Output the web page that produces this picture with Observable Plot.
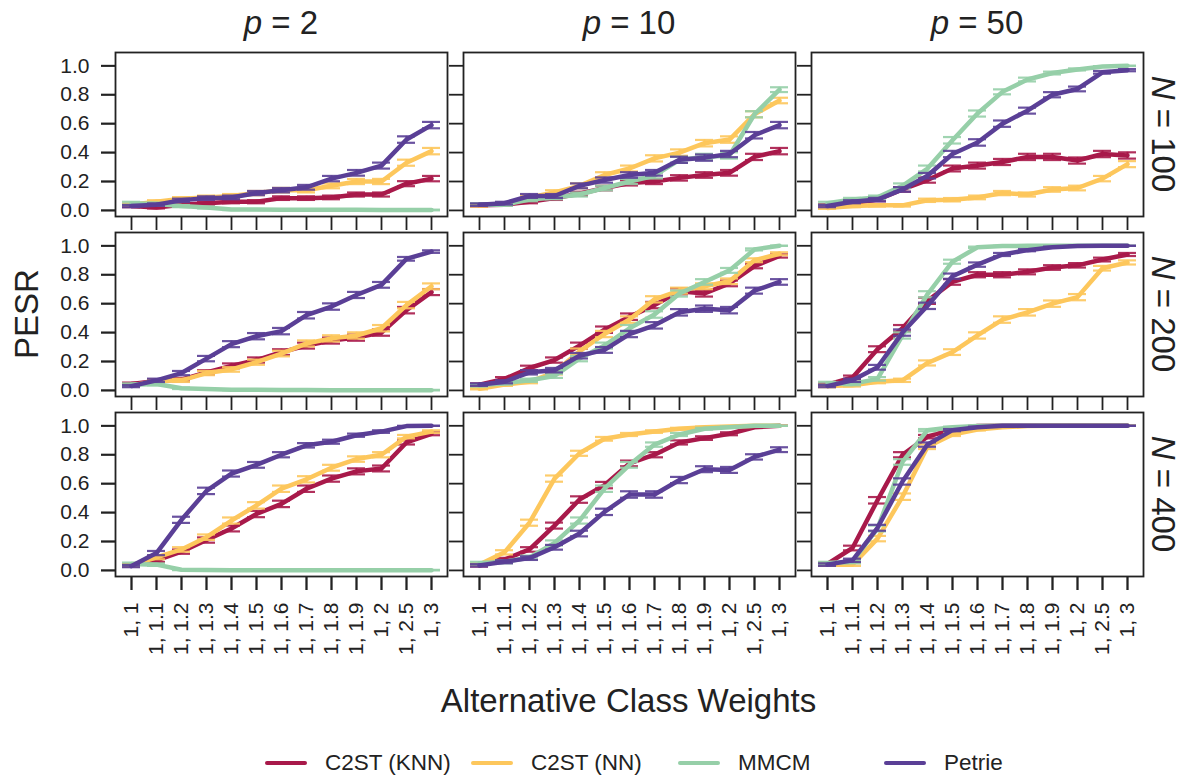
<!DOCTYPE html>
<html>
<head>
<meta charset="utf-8">
<script src="https://cdn.jsdelivr.net/npm/d3@7"></script>
<script src="https://cdn.jsdelivr.net/npm/@observablehq/plot@0.6"></script>
<style>
  body { margin: 0; background: #fff; font-family: "Liberation Sans", Arial, sans-serif; }
  #wrap { position: relative; width: 1187px; height: 778px; overflow: hidden; }
  #legend { position: absolute; left: 0; top: 750px; width: 1187px; height: 26px; }
  .item { position: absolute; top: 0; height: 26px; display: flex; align-items: center; font-size: 22.5px; color: #222; white-space: nowrap; }
  .swatch { width: 42px; height: 4px; border-radius: 2px; margin-right: 18px; }
</style>
</head>
<body>
<div id="wrap"></div>
<script>
// Alternative class weights on the x axis (13 settings)
const weights = ["1, 1", "1, 1.1", "1, 1.2", "1, 1.3", "1, 1.4", "1, 1.5", "1, 1.6",
                 "1, 1.7", "1, 1.8", "1, 1.9", "1, 2", "1, 2.5", "1, 3"];
const dims = [2, 10, 50];          // p, columns
const sizes = [100, 200, 400];     // N, rows
const methods = ["C2ST (KNN)", "C2ST (NN)", "MMCM", "Petrie"];
const colors = ["#A8194A", "#FDC75C", "#96CFA8", "#5A3F96"];
const yTicks = [0, 0.2, 0.4, 0.6, 0.8, 1.0];
const REPLICATES = 500;            // simulation runs behind each rejection rate

// PESR per method, p and N
const knn_p2_n100  = [0.03, 0.02, 0.04, 0.05, 0.06, 0.06, 0.085, 0.085, 0.09, 0.11, 0.11, 0.185, 0.22];
const nn_p2_n100   = [0.04, 0.06, 0.08, 0.09, 0.10, 0.12, 0.14, 0.14, 0.17, 0.20, 0.20, 0.33, 0.41];
const mmcm_p2_n100 = [0.05, 0.045, 0.03, 0.02, 0.006, 0.006, 0.005, 0.005, 0.004, 0.004, 0.003, 0.003, 0.003];
const pet_p2_n100  = [0.03, 0.04, 0.07, 0.085, 0.09, 0.12, 0.14, 0.16, 0.22, 0.26, 0.31, 0.49, 0.59];

const knn_p10_n100  = [0.035, 0.04, 0.06, 0.085, 0.115, 0.155, 0.19, 0.20, 0.225, 0.245, 0.26, 0.37, 0.41];
const nn_p10_n100   = [0.035, 0.045, 0.09, 0.125, 0.17, 0.245, 0.29, 0.36, 0.40, 0.465, 0.49, 0.665, 0.76];
const mmcm_p10_n100 = [0.04, 0.04, 0.075, 0.09, 0.11, 0.155, 0.20, 0.24, 0.35, 0.37, 0.38, 0.665, 0.835];
const pet_p10_n100  = [0.04, 0.05, 0.10, 0.10, 0.17, 0.21, 0.245, 0.26, 0.35, 0.365, 0.39, 0.52, 0.59];

const knn_p50_n100  = [0.035, 0.05, 0.075, 0.145, 0.21, 0.29, 0.31, 0.335, 0.37, 0.37, 0.345, 0.39, 0.38];
const nn_p50_n100   = [0.016, 0.03, 0.035, 0.035, 0.07, 0.074, 0.09, 0.12, 0.11, 0.145, 0.155, 0.22, 0.32];
const mmcm_p50_n100 = [0.05, 0.075, 0.09, 0.17, 0.29, 0.485, 0.67, 0.82, 0.905, 0.95, 0.975, 0.995, 1.0];
const pet_p50_n100  = [0.03, 0.06, 0.075, 0.145, 0.24, 0.39, 0.47, 0.60, 0.69, 0.80, 0.84, 0.955, 0.97];

const knn_p2_n200  = [0.045, 0.065, 0.075, 0.125, 0.17, 0.21, 0.265, 0.31, 0.345, 0.365, 0.40, 0.555, 0.68];
const nn_p2_n200   = [0.035, 0.065, 0.07, 0.12, 0.145, 0.195, 0.255, 0.325, 0.36, 0.38, 0.43, 0.59, 0.72];
const mmcm_p2_n200 = [0.04, 0.045, 0.015, 0.01, 0.005, 0.004, 0.003, 0.003, 0.002, 0.002, 0.002, 0.002, 0.002];
const pet_p2_n200  = [0.03, 0.07, 0.12, 0.22, 0.32, 0.375, 0.41, 0.52, 0.58, 0.66, 0.73, 0.91, 0.96];

const knn_p10_n200  = [0.04, 0.08, 0.155, 0.21, 0.31, 0.42, 0.51, 0.59, 0.685, 0.67, 0.74, 0.86, 0.93];
const nn_p10_n200   = [0.012, 0.04, 0.06, 0.125, 0.27, 0.39, 0.49, 0.63, 0.69, 0.72, 0.755, 0.90, 0.945];
const mmcm_p10_n200 = [0.035, 0.05, 0.07, 0.10, 0.22, 0.31, 0.43, 0.525, 0.67, 0.75, 0.83, 0.975, 1.0];
const pet_p10_n200  = [0.04, 0.06, 0.125, 0.14, 0.24, 0.28, 0.39, 0.45, 0.54, 0.565, 0.555, 0.69, 0.75];

const knn_p50_n200  = [0.04, 0.09, 0.285, 0.43, 0.62, 0.75, 0.80, 0.80, 0.82, 0.85, 0.865, 0.905, 0.94];
const nn_p50_n200   = [0.03, 0.035, 0.06, 0.07, 0.19, 0.265, 0.38, 0.49, 0.54, 0.60, 0.645, 0.845, 0.885];
const mmcm_p50_n200 = [0.05, 0.045, 0.08, 0.38, 0.665, 0.89, 0.99, 0.998, 1.0, 1.0, 1.0, 1.0, 1.0];
const pet_p50_n200  = [0.03, 0.07, 0.16, 0.40, 0.585, 0.79, 0.87, 0.94, 0.97, 0.99, 0.998, 1.0, 1.0];

const knn_p2_n400  = [0.035, 0.07, 0.13, 0.21, 0.29, 0.39, 0.46, 0.565, 0.635, 0.685, 0.705, 0.885, 0.945];
const nn_p2_n400   = [0.035, 0.09, 0.145, 0.23, 0.345, 0.45, 0.565, 0.63, 0.71, 0.77, 0.80, 0.925, 0.96];
const mmcm_p2_n400 = [0.045, 0.04, 0.005, 0.003, 0.002, 0.002, 0.002, 0.002, 0.002, 0.002, 0.002, 0.002, 0.002];
const pet_p2_n400  = [0.03, 0.12, 0.35, 0.55, 0.67, 0.73, 0.80, 0.865, 0.89, 0.935, 0.96, 0.998, 1.0];

const knn_p10_n400  = [0.035, 0.075, 0.145, 0.31, 0.49, 0.59, 0.74, 0.80, 0.885, 0.915, 0.945, 0.99, 1.0];
const nn_p10_n400   = [0.04, 0.125, 0.33, 0.635, 0.81, 0.91, 0.94, 0.96, 0.98, 0.99, 0.995, 1.0, 1.0];
const mmcm_p10_n400 = [0.05, 0.06, 0.09, 0.19, 0.345, 0.565, 0.73, 0.87, 0.94, 0.98, 0.99, 1.0, 1.0];
const pet_p10_n400  = [0.035, 0.06, 0.085, 0.16, 0.255, 0.405, 0.525, 0.525, 0.625, 0.70, 0.695, 0.785, 0.835];

const knn_p50_n400  = [0.045, 0.155, 0.485, 0.80, 0.925, 0.975, 0.998, 1.0, 1.0, 1.0, 1.0, 1.0, 1.0];
const nn_p50_n400   = [0.04, 0.04, 0.22, 0.51, 0.855, 0.94, 0.975, 0.99, 0.998, 1.0, 1.0, 1.0, 1.0];
const mmcm_p50_n400 = [0.05, 0.06, 0.29, 0.75, 0.97, 0.99, 0.998, 1.0, 1.0, 1.0, 1.0, 1.0, 1.0];
const pet_p50_n400  = [0.04, 0.07, 0.295, 0.615, 0.87, 0.97, 0.99, 1.0, 1.0, 1.0, 1.0, 1.0, 1.0];

const series = [
  [2, 100, methods[0], knn_p2_n100], [2, 100, methods[1], nn_p2_n100], [2, 100, methods[2], mmcm_p2_n100], [2, 100, methods[3], pet_p2_n100],
  [10, 100, methods[0], knn_p10_n100], [10, 100, methods[1], nn_p10_n100], [10, 100, methods[2], mmcm_p10_n100], [10, 100, methods[3], pet_p10_n100],
  [50, 100, methods[0], knn_p50_n100], [50, 100, methods[1], nn_p50_n100], [50, 100, methods[2], mmcm_p50_n100], [50, 100, methods[3], pet_p50_n100],
  [2, 200, methods[0], knn_p2_n200], [2, 200, methods[1], nn_p2_n200], [2, 200, methods[2], mmcm_p2_n200], [2, 200, methods[3], pet_p2_n200],
  [10, 200, methods[0], knn_p10_n200], [10, 200, methods[1], nn_p10_n200], [10, 200, methods[2], mmcm_p10_n200], [10, 200, methods[3], pet_p10_n200],
  [50, 200, methods[0], knn_p50_n200], [50, 200, methods[1], nn_p50_n200], [50, 200, methods[2], mmcm_p50_n200], [50, 200, methods[3], pet_p50_n200],
  [2, 400, methods[0], knn_p2_n400], [2, 400, methods[1], nn_p2_n400], [2, 400, methods[2], mmcm_p2_n400], [2, 400, methods[3], pet_p2_n400],
  [10, 400, methods[0], knn_p10_n400], [10, 400, methods[1], nn_p10_n400], [10, 400, methods[2], mmcm_p10_n400], [10, 400, methods[3], pet_p10_n400],
  [50, 400, methods[0], knn_p50_n400], [50, 400, methods[1], nn_p50_n400], [50, 400, methods[2], mmcm_p50_n400], [50, 400, methods[3], pet_p50_n400]
];

// Long table; error bars are ±1 standard error of a proportion over the replicates
const rows = series.flatMap(([p, N, method, values]) => values.map((v, i) => {
  const se = Math.sqrt(v * (1 - v) / REPLICATES);
  return {p, N, method, w: weights[i], v, lo: v - se, hi: v + se};
}));

const ink = "#222";
const facet = {fx: "p", fy: "N"};
const capHalf = 9;   // half-width of the error-bar caps, px

const seriesMarks = methods.flatMap((m) => {
  const d = rows.filter((r) => r.method === m);
  const cap = (y) => Plot.ruleY(d, {...facet, x1: "w", x2: "w", y, stroke: "method", strokeWidth: 2.2, strokeOpacity: 0.9, insetLeft: -capHalf, insetRight: -capHalf});
  return [
    Plot.ruleX(d, {...facet, x: "w", y1: "lo", y2: "hi", stroke: "method", strokeWidth: 2}),
    Plot.line(d, {...facet, x: "w", y: "v", stroke: "method", strokeWidth: 4.5, strokeLinejoin: "round", strokeLinecap: "round"}),
    cap("lo"),
    cap("hi")
  ];
});

const chart = Plot.plot({
  width: 1187,
  height: 740,
  marginLeft: 114,
  marginRight: 44,
  marginTop: 52,
  marginBottom: 164,
  style: {fontFamily: '"Liberation Sans", Arial, sans-serif', fontSize: "21px", color: ink, background: "#fff"},
  fx: {domain: dims, paddingInner: 0.047, paddingOuter: 0, axis: null},
  fy: {domain: sizes, paddingInner: 0.089, paddingOuter: 0, axis: null},
  x: {type: "point", domain: weights, padding: 0.5},
  y: {domain: [-0.042, 1.092]},
  color: {domain: methods, range: colors},
  marks: [
    Plot.axisY({ticks: yTicks, tickSize: 14, tickPadding: 12, fontSize: 21, tickFormat: d3.format(".1f"), label: null, color: ink, strokeWidth: 1.8}),
    Plot.axisY({ticks: yTicks, tickSize: 14, tickFormat: () => "", label: null, facetAnchor: null, color: ink, strokeWidth: 1.8}),
    Plot.axisX({tickSize: 14, tickPadding: 12, tickRotate: -90, fontSize: 21, label: null, color: ink, strokeWidth: 1.8}),
    Plot.axisX({tickSize: 14, tickFormat: () => "", label: null, facetAnchor: null, color: ink, strokeWidth: 1.8}),
    ...seriesMarks,
    Plot.frame({stroke: ink, strokeWidth: 1.8})
  ]
});

document.getElementById("wrap").appendChild(chart);

// Tick labels at the full text size
const svg = d3.select(chart);
svg.selectAll("text").style("font-size", "21px");

// Strip labels and axis titles
const fxS = chart.scale("fx");
const fyS = chart.scale("fy");
const titleFont = 33;

dims.forEach((p) => {
  const t = svg.append("text")
    .attr("x", fxS.apply(p) + fxS.bandwidth / 2)
    .attr("y", 22)
    .attr("dy", "0.35em")
    .attr("text-anchor", "middle")
    .style("font-size", titleFont + "px")
    .attr("fill", ink);
  t.append("tspan").attr("font-style", "italic").text("p");
  t.append("tspan").text(" = " + p);
});

sizes.forEach((N) => {
  const cy = fyS.apply(N) + fyS.bandwidth / 2;
  const t = svg.append("text")
    .attr("transform", `translate(1164,${cy}) rotate(90)`)
    .attr("dy", "0.35em")
    .attr("text-anchor", "middle")
    .style("font-size", titleFont + "px")
    .attr("fill", ink);
  t.append("tspan").attr("font-style", "italic").text("N");
  t.append("tspan").text(" = " + N);
});

svg.append("text")
  .attr("transform", "translate(26,314) rotate(-90)")
  .attr("dy", "0.35em")
  .attr("text-anchor", "middle")
  .style("font-size", titleFont + "px")
  .attr("fill", ink)
  .text("PESR");

svg.append("text")
  .attr("x", 628.5)
  .attr("y", 700)
  .attr("dy", "0.35em")
  .attr("text-anchor", "middle")
  .style("font-size", titleFont + "px")
  .attr("fill", ink)
  .text("Alternative Class Weights");

// Legend below the plot
const legend = document.createElement("div");
legend.id = "legend";
const legendLeft = [265, 471, 678, 884];
methods.forEach((m, i) => {
  const item = document.createElement("div");
  item.className = "item";
  item.style.left = legendLeft[i] + "px";
  const sw = document.createElement("span");
  sw.className = "swatch";
  sw.style.background = colors[i];
  const label = document.createElement("span");
  label.textContent = m;
  item.appendChild(sw);
  item.appendChild(label);
  legend.appendChild(item);
});
document.getElementById("wrap").appendChild(legend);
</script>
</body>
</html>
